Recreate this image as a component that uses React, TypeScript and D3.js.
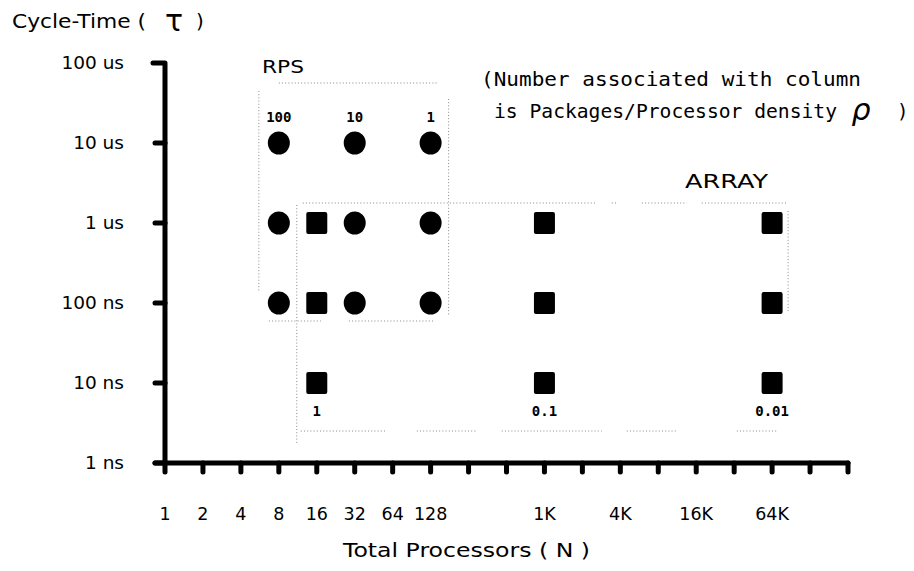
import React from "react";
import * as d3 from "d3";

// ---------- data ----------
const yTickValues = [1e-9, 1e-8, 1e-7, 1e-6, 1e-5, 1e-4];
const yTickLabels = ["1 ns", "10 ns", "100 ns", "1 us", "10 us", "100 us"];

const xTickExponents = [0, 1, 2, 3, 4, 5, 6, 7, 8, 9, 10, 11, 12, 13, 14, 15, 16, 17, 18];
const xLabelValues = [1, 2, 4, 8, 16, 32, 64, 128, 1024, 4096, 16384, 65536];
const xLabelTexts = ["1", "2", "4", "8", "16", "32", "64", "128", "1K", "4K", "16K", "64K"];

// RPS (circles)
const rpsColumns = [8, 32, 128];
const rpsDensity = ["100", "10", "1"];
const rpsTimes = [1e-5, 1e-6, 1e-7];

// ARRAY (squares)
const arrayColumns = [16, 1024, 65536];
const arrayDensity = ["1", "0.1", "0.01"];
const arrayTimes = [1e-6, 1e-7, 1e-8];

// ---------- layout ----------
const W = 914;
const H = 571;
const x = d3.scaleLog().base(2).domain([1, 262144]).range([165, 848]);
const y = d3.scaleLog().domain([1e-9, 1e-4]).range([463, 63]);

const FONT = "'DejaVu Sans', Verdana, sans-serif";
const MONO = "'DejaVu Sans Mono', monospace";
const DOT = { stroke: "#8a8a8a", strokeWidth: 1, strokeDasharray: "1 2.2", fill: "none" };

export default function App() {
  const axisLeft = x(1);
  const axisRight = x(262144);
  const axisBottom = y(1e-9);
  const axisTop = y(1e-4);

  // dotted group boxes (derived from the marker positions)
  const rL = x(rpsColumns[0]) - 20;
  const rR = x(rpsColumns[2]) + 18;
  const rT = y(1e-4) + 20;
  const rB = y(rpsTimes[2]) + 16;

  const aL = x(arrayColumns[0]) - 20;
  const aR = x(arrayColumns[2]) + 16;
  const aT = y(arrayTimes[0]) - 20;
  const aB = y(arrayTimes[2]) + 48;

  const segs: [number, number, number, number][] = [
    // RPS box
    [rL + 20, rT, rR - 10, rT],
    [rL, rT + 8, rL, rB - 28],
    [rR, rT + 16, rR, rB - 4],
    [rL + 10, rB + 2, rL + 62, rB + 2],
    [rL + 90, rB + 2, rR - 14, rB + 2],
    // ARRAY box
    [aL + 6, aT, aL + 300, aT],
    [aL + 315, aT, aL + 320, aT],
    [aL + 345, aT, aL + 390, aT],
    [aL + 405, aT, aR - 2, aT],
    [aL, aT + 2, aL, aB + 12],
    [aR, aT + 8, aR, y(arrayTimes[1]) + 8],
    [aL + 4, aB, aL + 90, aB],
    [aL + 120, aB, aL + 180, aB],
    [aL + 205, aB, aL + 305, aB],
    [aL + 330, aB, aL + 380, aB],
    [aL + 440, aB, aR - 10, aB],
  ];

  return (
    <svg
      width={W}
      height={H}
      style={{ position: "absolute", left: 0, top: 0, background: "#fff" }}
    >
      <rect width={W} height={H} fill="#fff" />

      {/* dotted group boxes */}
      {segs.map((s, i) => (
        <line key={"seg" + i} x1={s[0]} y1={s[1]} x2={s[2]} y2={s[3]} {...DOT} />
      ))}

      {/* axes */}
      <g stroke="#000" strokeWidth={5} strokeLinecap="round" fill="none">
        <path d={`M${axisLeft - 12},${axisTop} H${axisLeft} V${axisBottom}`} strokeLinejoin="round" />
        <line x1={axisLeft - 10} y1={axisBottom} x2={axisRight} y2={axisBottom} />
        {yTickValues.slice(0, -1).map((v) => (
          <line key={"yt" + v} x1={axisLeft - 10} y1={y(v)} x2={axisLeft} y2={y(v)} />
        ))}
        {xTickExponents.map((k) => (
          <line key={"xt" + k} x1={x(2 ** k)} y1={axisBottom} x2={x(2 ** k)} y2={axisBottom + 9} />
        ))}
      </g>

      {/* y tick labels */}
      {yTickValues.map((v, i) => (
        <text
          key={"yl" + v}
          x={124}
          y={y(v) + 6}
          textAnchor="end"
          fontFamily={FONT}
          fontSize={18.5}
          fill="#000"
        >
          {yTickLabels[i]}
        </text>
      ))}

      {/* x tick labels */}
      {xLabelValues.map((v, i) => (
        <text
          key={"xl" + v}
          x={x(v)}
          y={520}
          textAnchor="middle"
          fontFamily={FONT}
          fontSize={17.5}
          fill="#000"
        >
          {xLabelTexts[i]}
        </text>
      ))}

      {/* axis titles */}
      <text x={12} y={28} fontFamily={FONT} fontSize={20} textLength={134} lengthAdjust="spacingAndGlyphs" fill="#000">
        Cycle-Time (
      </text>
      <text x={174} y={31} fontFamily={FONT} fontSize={30} textAnchor="middle" fill="#000">
        τ
      </text>
      <text x={196} y={28} fontFamily={FONT} fontSize={20} fill="#000">
        )
      </text>
      <text x={343} y={557} fontFamily={FONT} fontSize={20} textLength={247} lengthAdjust="spacingAndGlyphs" fill="#000">
        Total Processors ( N )
      </text>

      {/* group labels */}
      <text x={262} y={73} fontFamily={FONT} fontSize={18} textLength={42} lengthAdjust="spacingAndGlyphs" fill="#000">
        RPS
      </text>
      <text x={685} y={188} fontFamily={FONT} fontSize={19} textLength={83} lengthAdjust="spacingAndGlyphs" fill="#000">
        ARRAY
      </text>

      {/* annotation */}
      <text x={481} y={86} fontFamily={MONO} fontSize={19} textLength={380} lengthAdjust="spacingAndGlyphs" fill="#000">
        (Number associated with column
      </text>
      <text x={494} y={118} fontFamily={MONO} fontSize={19} textLength={343} lengthAdjust="spacingAndGlyphs" fill="#000">
        is Packages/Processor density
      </text>
      <text x={861} y={120} fontFamily={FONT} fontSize={30} fontStyle="italic" textAnchor="middle" fill="#000">
        ρ
      </text>
      <text x={897} y={118} fontFamily={MONO} fontSize={19} fill="#000">
        )
      </text>

      {/* RPS markers (circles) */}
      {rpsColumns.map((n) =>
        rpsTimes.map((t) => (
          <ellipse key={`c${n}-${t}`} cx={x(n)} cy={y(t)} rx={11} ry={11.5} fill="#000" />
        ))
      )}
      {rpsColumns.map((n, i) => (
        <text
          key={"rd" + n}
          x={x(n)}
          y={y(rpsTimes[0]) - 21}
          textAnchor="middle"
          fontFamily={MONO}
          fontWeight="bold"
          fontSize={14}
          fill="#000"
        >
          {rpsDensity[i]}
        </text>
      ))}

      {/* ARRAY markers (squares) */}
      {arrayColumns.map((n) =>
        arrayTimes.map((t) => (
          <rect key={`s${n}-${t}`} x={x(n) - 10.5} y={y(t) - 11} width={21} height={22} rx={2} fill="#000" />
        ))
      )}
      {arrayColumns.map((n, i) => (
        <text
          key={"ad" + n}
          x={x(n)}
          y={y(arrayTimes[2]) + 33}
          textAnchor="middle"
          fontFamily={MONO}
          fontWeight="bold"
          fontSize={14}
          fill="#000"
        >
          {arrayDensity[i]}
        </text>
      ))}
    </svg>
  );
}
